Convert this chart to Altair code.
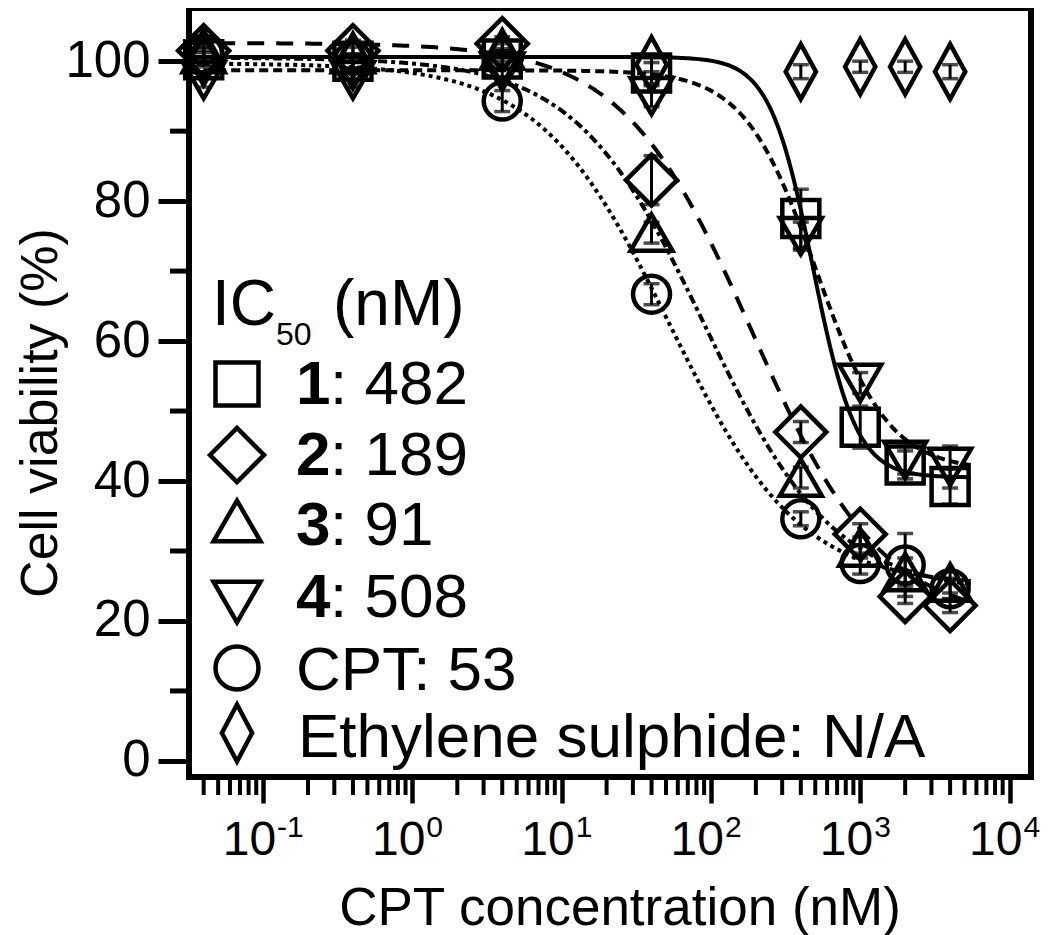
import altair as alt
import numpy as np
import pandas as pd

FONT = "Liberation Sans"

# ---------------- data ----------------
conc = [0.04, 0.4, 4, 40, 400, 1000, 2000, 4000]          # nM
v1 = [100.2, 100.0, 100.3, 98.3, 77.5, 47.7, 42.3, 39.2]  # compound 1 (square)
e1 = [1.0, 1.0, 1.5, 1.5, 4.2, 3.0, 2.0, 2.5]
v2 = [101.5, 101.5, 102.5, 83.0, 47.0, 32.4, 23.5, 22.2]  # compound 2 (diamond)
e2 = [1.0, 1.5, 1.0, 3.5, 1.5, 1.5, 1.0, 1.0]
v3 = [101.0, 101.0, 101.5, 75.5, 40.5, 30.5, 27.0, 25.5]  # compound 3 (triangle)
e3 = [1.0, 1.0, 1.0, 1.5, 1.5, 1.5, 2.0, 1.5]
v4 = [97.3, 97.3, 98.5, 95.0, 75.0, 54.0, 43.0, 42.0]     # compound 4 (inverted triangle)
e4 = [1.0, 1.0, 1.5, 1.5, 2.0, 1.5, 2.0, 3.0]
vc = [101.0, 100.0, 94.3, 66.7, 34.6, 28.2, 28.0, 24.6]   # CPT (circle)
ec = [1.0, 1.0, 1.5, 1.5, 1.0, 1.5, 4.5, 1.5]
ves = [100.5, 100.0, 100.5, 99.5, 98.5, 99.2, 99.2, 98.5] # ethylene sulphide
ees = [1.0, 1.0, 1.0, 1.0, 1.0, 0.8, 0.8, 1.0]

# fitted dose-response curves (4-parameter logistic)
fit_top = [100.6, 102.6, 100.5, 98.7, 99.7]
fit_bottom = [40.5, 20.0, 24.0, 41.5, 25.0]
fit_ic50 = [482, 189, 91, 508, 53]
fit_hill = [3.0, 1.0, 1.0, 1.8, 1.0]
fit_dash = [[1, 0], [17, 12], [9, 4, 4, 4], [9, 5], [4, 4]]

x_ticks = [0.1, 1, 10, 100, 1000, 10000]
x_exps = ["-1", "0", "1", "2", "3", "4"]
y_ticks = [0, 20, 40, 60, 80, 100]
y_minor = [10, 30, 50, 70, 90]

leg_title = ["IC", "50", "(nM)"]
leg_bold = ["1", "2", "3", "4"]
leg_rest = [": 482", ": 189", ": 91", ": 508"]
leg_plain = ["CPT: 53", "Ethylene sulphide: N/A"]

# ---------------- layout ----------------
W, H = 842, 769
XDOM = [0.0319, 13930]
YDOM = [-2.3, 107.6]

xs = alt.Scale(type="log", domain=XDOM, nice=False)
ys = alt.Scale(domain=YDOM, nice=False, zero=False)
xaxis = alt.Axis(values=x_ticks, labels=False, tickSize=26, tickWidth=4.5,
                 tickColor="black", domain=False, grid=False, title=None)
yaxis = alt.Axis(values=y_ticks, tickSize=31, tickWidth=5, tickColor="black",
                 labelFontSize=51, labelFont=FONT, labelColor="black",
                 labelPadding=8, domain=False, grid=False, title=None)


def X(f="conc"):
    return alt.X(f"{f}:Q", scale=xs, axis=xaxis, title=None)


def Y(f="val"):
    return alt.Y(f"{f}:Q", scale=ys, axis=yaxis, title=None)


layers = []

# fitted curves
xg = np.logspace(np.log10(0.032), np.log10(5500), 300)
for top, bot, ic, h, dash in zip(fit_top, fit_bottom, fit_ic50, fit_hill, fit_dash):
    yv = bot + (top - bot) / (1 + (xg / ic) ** h)
    d = pd.DataFrame({"conc": xg, "val": yv})
    kw = dict(color="black", strokeWidth=4, strokeCap="butt")
    if dash != [1, 0]:
        kw["strokeDash"] = dash
    layers.append(alt.Chart(d).mark_line(**kw).encode(x=X(), y=Y()))

# series: values, errors, shape, size
series = [
    (conc, v1, e1, "square", 1369),
    (conc, v2, e2, "diamond", 2600),
    (conc, v3, e3, "triangle-up", 1764),
    (conc, v4, e4, "triangle-down", 1764),
    (conc, vc, ec, "circle", 1369),
    (conc, ves, ees, "M0,-1L0.55,0L0,1L-0.55,0Z", 3025),
]
CAP = "M-1,0L1,0"
for cx, vals, errs, shape, size in series:
    d = pd.DataFrame({"conc": cx, "val": vals,
                      "lo": [v - e for v, e in zip(vals, errs)],
                      "hi": [v + e for v, e in zip(vals, errs)]})
    base = alt.Chart(d)
    layers.append(base.mark_rule(color="black", strokeWidth=3).encode(
        x=X(), y=Y("lo"), y2=alt.Y2("hi:Q")))
    layers.append(base.mark_point(shape=CAP, size=256, color="black", strokeWidth=3.5,
                                  filled=False).encode(x=X(), y=Y("lo")))
    layers.append(base.mark_point(shape=CAP, size=256, color="black", strokeWidth=3.5,
                                  filled=False).encode(x=X(), y=Y("hi")))
    layers.append(base.mark_point(shape=shape, size=size, filled=False, color="black",
                                  strokeWidth=4.5, opacity=1).encode(x=X(), y=Y()))

# minor ticks
xminor = [k * 10.0 ** n for n in range(-2, 4) for k in range(2, 10)]
xminor = [v for v in xminor if XDOM[0] <= v <= 9000]
layers.append(alt.Chart(pd.DataFrame({"conc": xminor})).mark_rule(
    color="black", strokeWidth=4).encode(x=X(), y=alt.value(H), y2=alt.value(H + 18)))
layers.append(alt.Chart(pd.DataFrame({"val": y_minor})).mark_rule(
    color="black", strokeWidth=5).encode(y=Y(), x=alt.value(-19), x2=alt.value(0)))

# x tick labels 10^n
xl = pd.DataFrame({"conc": x_ticks, "base": ["10"] * len(x_ticks), "exp": x_exps})
layers.append(alt.Chart(xl).mark_text(font=FONT, fontSize=48, align="right",
                                      baseline="alphabetic", dx=13, color="black").encode(
    x=X(), y=alt.value(847), text="base:N"))
layers.append(alt.Chart(xl).mark_text(font=FONT, fontSize=30, align="left",
                                      baseline="alphabetic", dx=14, color="black").encode(
    x=X(), y=alt.value(829), text="exp:N"))


def txt(s, x, y, size, align="left", weight="normal", angle=0):
    return alt.Chart(pd.DataFrame({"t": [s]})).mark_text(
        font=FONT, fontSize=size, align=align, baseline="alphabetic",
        fontWeight=weight, angle=angle, color="black").encode(
        x=alt.value(x), y=alt.value(y), text="t:N")


# axis titles
layers.append(txt("CPT concentration (nM)", 431, 917, 53, align="center"))
layers.append(txt("Cell viability (%)", -132, 405, 52, align="center", angle=270))

# legend (annotation)
layers.append(txt(leg_title[0], 23, 317, 64))
layers.append(txt(leg_title[1], 87, 337, 32))
layers.append(txt(leg_title[2], 144, 317, 64))
row_base = [396, 467, 537, 609, 682, 749]
for i in range(4):
    layers.append(txt(leg_bold[i], 107, row_base[i], 62, weight="bold"))
    layers.append(txt(leg_rest[i], 141, row_base[i], 62))
layers.append(txt(leg_plain[0], 107, row_base[4], 62))
layers.append(txt(leg_plain[1], 109, row_base[5], 62))

leg_shapes = ["square", "diamond", "triangle-up", "triangle-down", "circle",
              "M0,-1L0.53,0L0,1L-0.53,0Z"]
leg_sizes = [1849, 2916, 2209, 2209, 1849, 3249]
leg_y = [376, 447, 513, 594, 660, 725]
for shp, sz, yy in zip(leg_shapes, leg_sizes, leg_y):
    layers.append(alt.Chart(pd.DataFrame({"t": [shp]})).mark_point(
        shape=shp, size=sz, filled=False, color="black", strokeWidth=4.5, opacity=1).encode(
        x=alt.value(48), y=alt.value(yy)))

chart = alt.layer(*layers).properties(
    width=W, height=H,
    autosize=alt.AutoSizeParams(type="none"),
    padding={"left": 181, "top": 0, "right": 11, "bottom": 158},
).configure_view(stroke="black", strokeWidth=6)

chart.save("out.html", embed_options={"renderer": "svg", "actions": False})
